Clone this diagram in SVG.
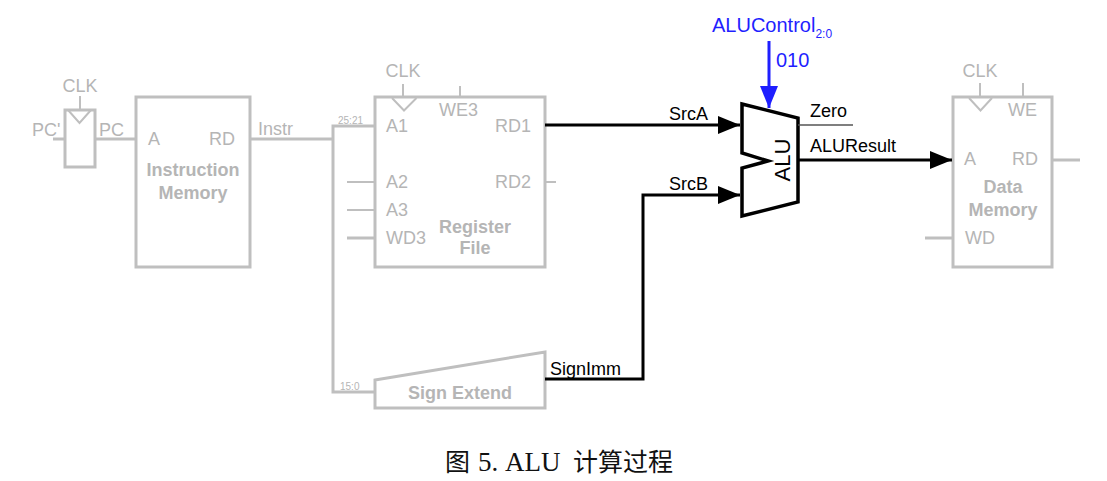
<svg xmlns="http://www.w3.org/2000/svg" width="1107" height="481" viewBox="0 0 1107 481">
<style>
.g{fill:none;stroke:#bfbfbf;stroke-width:3}
.gt{fill:none;stroke:#bfbfbf;stroke-width:2}
.gl{font-family:"Liberation Sans",Arial,sans-serif;font-size:18px;fill:#b5b5b5}
.gb{font-family:"Liberation Sans",Arial,sans-serif;font-size:18px;font-weight:bold;fill:#b5b5b5;text-anchor:middle}
.gs{font-family:"Liberation Sans",Arial,sans-serif;font-size:10px;fill:#b5b5b5}
.bl{font-family:"Liberation Sans",Arial,sans-serif;font-size:18px;fill:#000}
.bw{fill:none;stroke:#000;stroke-width:3}
.blue{font-family:"Liberation Sans",Arial,sans-serif;font-size:20px;fill:#1f1fff}
</style>
<defs>
<marker id="ah" markerUnits="userSpaceOnUse" markerWidth="22" markerHeight="18" refX="22" refY="9" orient="auto"><path d="M0,0 L22,9 L0,18 Z" fill="#000"/></marker>
<marker id="ahb" markerUnits="userSpaceOnUse" markerWidth="22" markerHeight="18" refX="22" refY="9" orient="auto"><path d="M0,0 L22,9 L0,18 Z" fill="#1f1fff"/></marker>
</defs>
<rect x="0" y="0" width="1107" height="481" fill="#fff"/>

<g id="pc-register">
<rect x="65" y="110" width="30" height="57" class="g"/>
<path d="M68,110 L79.5,123 L91,110" class="gt"/>
<line x1="80" y1="96" x2="80" y2="110" class="gt"/>
<text x="80" y="92" class="gl" text-anchor="middle">CLK</text>
<text x="32" y="136" class="gl">PC'</text>
<text x="99" y="136" class="gl">PC</text>
</g>

<g id="instruction-memory">
<rect x="136" y="97" width="114" height="170" class="g"/>
<text x="148" y="145" class="gl">A</text>
<text x="209" y="145" class="gl">RD</text>
<text x="193" y="176" class="gb">Instruction</text>
<text x="193" y="199" class="gb">Memory</text>
<text x="258" y="135" class="gl">Instr</text>
</g>

<g id="register-file">
<rect x="375" y="97" width="170" height="170" class="g"/>
<path d="M392,98 L404,110.5 L416.5,98" class="gt"/>
<line x1="403" y1="84" x2="403" y2="97" class="gt"/>
<line x1="460" y1="86" x2="460" y2="97" class="gt"/>
<text x="403" y="77" class="gl" text-anchor="middle">CLK</text>
<text x="439" y="116" class="gl">WE3</text>
<text x="386" y="132" class="gl">A1</text>
<text x="495" y="132" class="gl">RD1</text>
<text x="386" y="188" class="gl">A2</text>
<text x="495" y="188" class="gl">RD2</text>
<text x="386" y="216" class="gl">A3</text>
<text x="386" y="244" class="gl">WD3</text>
<text x="475" y="233" class="gb">Register</text>
<text x="475" y="254" class="gb">File</text>
</g>

<g id="sign-extend">
<path d="M375,380 L545,352 L545,408 L375,408 Z" class="g"/>
<text x="460" y="399" class="gb">Sign Extend</text>
</g>

<g id="alu">
<path d="M742,104 L798,118 L798,202 L742,216 L742,168 L768,161 L742,153 Z" fill="#fff" stroke="#000" stroke-width="3.5" stroke-linejoin="miter"/>
<text x="790" y="160" transform="rotate(-90 790 160)" font-family="Liberation Sans, Arial, sans-serif" font-size="22" text-anchor="middle" fill="#000">ALU</text>
</g>

<g id="data-memory">
<rect x="953" y="97" width="99" height="170" class="g"/>
<path d="M969,98 L980.5,110.5 L992,98" class="gt"/>
<line x1="980" y1="83" x2="980" y2="97" class="gt"/>
<line x1="1023" y1="83" x2="1023" y2="97" class="gt"/>
<text x="980" y="77" class="gl" text-anchor="middle">CLK</text>
<text x="1008" y="116" class="gl">WE</text>
<text x="964" y="165" class="gl">A</text>
<text x="1012" y="165" class="gl">RD</text>
<text x="1003" y="193" class="gb">Data</text>
<text x="1003" y="216" class="gb">Memory</text>
<text x="965" y="244" class="gl">WD</text>
</g>

<g id="connectors">
<line x1="53" y1="139" x2="65" y2="139" class="g"/>
<line x1="95" y1="139" x2="136" y2="139" class="g"/>
<line x1="250" y1="139" x2="333" y2="139" class="g"/>
<path d="M375,126 L333,126 L333,392 L375,392" class="g"/>
<text x="338" y="124" class="gs">25:21</text>
<text x="340" y="390" class="gs">15:0</text>
<line x1="347" y1="182" x2="375" y2="182" class="gt"/>
<line x1="347" y1="210" x2="375" y2="210" class="gt"/>
<line x1="347" y1="238" x2="375" y2="238" class="g"/>
<line x1="545" y1="182" x2="556" y2="182" class="gt"/>
<line x1="925" y1="238" x2="953" y2="238" class="g"/>
<line x1="1052" y1="160" x2="1080" y2="160" class="g"/>

<line x1="545" y1="125" x2="740" y2="125" class="bw" marker-end="url(#ah)"/>
<text x="669" y="120" class="bl">SrcA</text>
<path d="M545,379 L643,379 L643,195 L740,195" class="bw" marker-end="url(#ah)"/>
<text x="669" y="190" class="bl">SrcB</text>
<text x="550" y="375" class="bl">SignImm</text>
<line x1="798" y1="125" x2="853" y2="125" stroke="#555" stroke-width="1.5"/>
<text x="810" y="117" class="bl">Zero</text>
<line x1="798" y1="160" x2="952" y2="160" class="bw" marker-end="url(#ah)"/>
<text x="810" y="152" class="bl">ALUResult</text>

<line x1="769" y1="41" x2="769" y2="108" stroke="#1f1fff" stroke-width="3" marker-end="url(#ahb)"/>
<text x="712" y="32" class="blue">ALUControl<tspan font-size="12" dy="6">2:0</tspan></text>
<text x="776" y="67" class="blue">010</text>
</g>

<text y="471" font-family="Liberation Serif, Noto Sans CJK SC, serif" font-size="25" fill="#111"><tspan x="445">图</tspan><tspan x="478" font-size="27">5. ALU</tspan><tspan x="573">计算过程</tspan></text>
</svg>
